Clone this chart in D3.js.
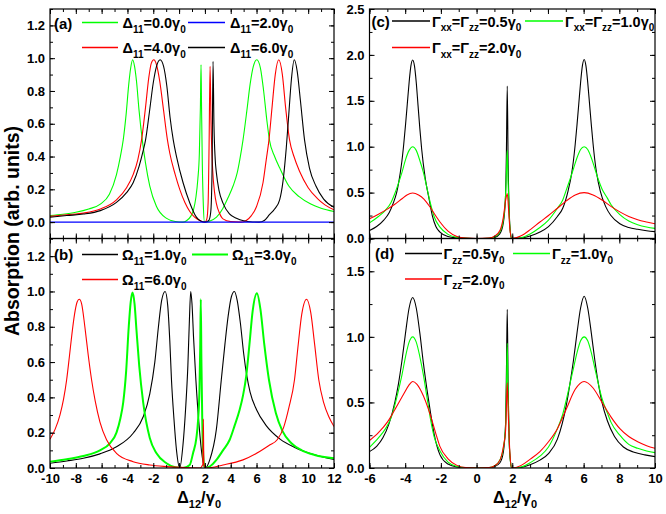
<!DOCTYPE html>
<html>
<head>
<meta charset="utf-8">
<script src="https://cdn.jsdelivr.net/npm/d3@7"></script>
<style>
  body { margin: 0; background: #fff; }
  svg { display: block; font-family: "Liberation Sans", Arial, sans-serif; font-weight: bold; }
</style>
</head>
<body>
<svg id="chart" width="666" height="514"></svg>
<script>
const FONT = '"Liberation Sans", Arial, sans-serif';

// tick values
const xTicksAB = [-10, -8, -6, -4, -2, 0, 2, 4, 6, 8, 10, 12];
const xTicksCD = [-6, -4, -2, 0, 2, 4, 6, 8, 10];
const yTicksA = [0, 0.2, 0.4, 0.6, 0.8, 1.0, 1.2];
const yTicksB = [0, 0.2, 0.4, 0.6, 0.8, 1.0, 1.2];
const yTicksC = [0, 0.5, 1.0, 1.5, 2.0, 2.5];
const yTicksD = [0, 0.5, 1.0, 1.5];

// legend labels
const labelsA = ["Δ_{11}=0.0γ_{0}", "Δ_{11}=2.0γ_{0}", "Δ_{11}=4.0γ_{0}", "Δ_{11}=6.0γ_{0}"];
const labelsB = ["Ω_{11}=1.0γ_{0}", "Ω_{11}=3.0γ_{0}", "Ω_{11}=6.0γ_{0}"];
const labelsC = ["Γ_{xx}=Γ_{zz}=0.5γ_{0}", "Γ_{xx}=Γ_{zz}=1.0γ_{0}", "Γ_{xx}=Γ_{zz}=2.0γ_{0}"];
const labelsD = ["Γ_{zz}=0.5γ_{0}", "Γ_{zz}=1.0γ_{0}", "Γ_{zz}=2.0γ_{0}"];

// (a) absorption vs Δ12: [x, y]
const aGreen = [[-10,0.04],[-9,0.048],[-8,0.06],[-7,0.08],[-6.1,0.11],[-5.4,0.17],[-4.85,0.29],[-4.55,0.4],[-4.33,0.5],[-4.1,0.66],[-3.9,0.84],[-3.75,0.94],[-3.6,0.99],[-3.45,0.95],[-3.3,0.86],[-3.1,0.68],[-2.85,0.5],[-2.6,0.36],[-2.27,0.22],[-1.75,0.095],[-1.0,0.024],[-0.3,0.004],[0.3,0],[0.6,0.01],[0.9,0.035],[1.1,0.07],[1.3,0.15],[1.45,0.26],[1.57,0.42],[1.65,0.7],[1.7,0.96],[1.74,0.7],[1.8,0.35],[1.88,0.1],[1.97,0],[2.3,0.004],[2.9,0.03],[3.4,0.085],[3.8,0.15],[4.18,0.22],[4.5,0.3],[4.7,0.38],[4.95,0.5],[5.25,0.68],[5.5,0.84],[5.75,0.95],[6.02,0.99],[6.3,0.94],[6.55,0.8],[6.8,0.62],[7.0,0.5],[7.4,0.4],[7.8,0.33],[8.5,0.22],[9.3,0.155],[10.2,0.11],[11,0.085],[12,0.065]];
const aBlue = [[-10,0],[12,0]];
const aRed = [[-10,0.035],[-8.7,0.045],[-7.4,0.055],[-6.1,0.08],[-4.85,0.136],[-4.07,0.21],[-3.56,0.29],[-3.2,0.38],[-2.91,0.5],[-2.6,0.7],[-2.35,0.88],[-2.15,0.97],[-1.96,0.99],[-1.75,0.96],[-1.5,0.86],[-1.2,0.68],[-0.9,0.5],[-0.72,0.42],[-0.3,0.29],[0.05,0.2],[0.45,0.12],[0.83,0.065],[1.2,0.03],[1.6,0.01],[2.0,0],[2.15,0.02],[2.25,0.12],[2.32,0.45],[2.4,0.95],[2.47,0.62],[2.6,0.32],[2.75,0.18],[2.9,0.11],[3.1,0.06],[3.4,0.02],[4.0,0.003],[4.8,0],[5.2,0.01],[5.6,0.04],[6.0,0.095],[6.5,0.24],[6.75,0.38],[6.96,0.5],[7.2,0.7],[7.45,0.9],[7.72,0.99],[8.0,0.9],[8.25,0.7],[8.56,0.5],[8.9,0.4],[9.33,0.31],[10,0.21],[10.7,0.145],[11.3,0.105],[12,0.075]];
const aBlack = [[-10,0.03],[-8.7,0.04],[-7.4,0.049],[-6.1,0.07],[-4.85,0.12],[-4.07,0.18],[-3.56,0.24],[-3.1,0.34],[-2.8,0.43],[-2.6,0.5],[-2.3,0.67],[-2.0,0.85],[-1.75,0.95],[-1.47,0.99],[-1.2,0.95],[-0.95,0.83],[-0.7,0.64],[-0.45,0.5],[-0.2,0.4],[0.31,0.24],[0.83,0.117],[1.34,0.03],[1.7,0.005],[2.0,0],[2.3,0.01],[2.45,0.06],[2.55,0.3],[2.63,0.98],[2.7,0.6],[2.8,0.38],[2.89,0.3],[3.1,0.19],[3.4,0.116],[3.9,0.05],[4.44,0.024],[5.0,0.008],[5.7,0.001],[6.2,0],[6.6,0.01],[7.0,0.045],[7.4,0.08],[7.79,0.136],[8.05,0.25],[8.3,0.45],[8.5,0.66],[8.7,0.87],[8.92,0.99],[9.15,0.92],[9.4,0.74],[9.72,0.5],[10.1,0.33],[10.6,0.22],[11.2,0.14],[12,0.09]];

// (b)
const bBlack = [[-10,0.027],[-8.7,0.04],[-7.42,0.055],[-6.13,0.08],[-4.85,0.12],[-3.56,0.197],[-2.78,0.29],[-2.27,0.42],[-1.88,0.6],[-1.6,0.8],[-1.35,0.95],[-1.08,1.0],[-0.88,0.92],[-0.72,0.72],[-0.59,0.5],[-0.4,0.28],[-0.2,0.1],[0.05,0],[0.3,0.13],[0.5,0.33],[0.68,0.58],[0.8,0.84],[0.9,1.0],[1.0,0.93],[1.12,0.74],[1.3,0.5],[1.55,0.24],[1.8,0.06],[2.03,0],[2.37,0.045],[2.89,0.22],[3.27,0.5],[3.55,0.7],[3.8,0.86],[4.05,0.97],[4.28,1.0],[4.5,0.95],[4.75,0.82],[5.0,0.65],[5.25,0.52],[5.5,0.43],[6.0,0.33],[6.75,0.24],[7.8,0.165],[9.0,0.115],[10.5,0.075],[12,0.048]];
const bGreen = [[-10,0.036],[-8.7,0.05],[-7.42,0.068],[-6.13,0.1],[-5.36,0.14],[-4.85,0.2],[-4.55,0.28],[-4.33,0.37],[-4.1,0.55],[-3.9,0.8],[-3.75,0.94],[-3.61,0.994],[-3.45,0.93],[-3.3,0.78],[-3.09,0.58],[-2.78,0.37],[-2.27,0.17],[-1.75,0.083],[-0.98,0.027],[-0.3,0.004],[0.3,0],[0.82,0.017],[1.08,0.084],[1.34,0.17],[1.47,0.27],[1.58,0.45],[1.64,0.7],[1.68,0.956],[1.73,0.6],[1.8,0.25],[1.88,0.06],[1.99,0],[2.4,0.01],[2.89,0.046],[3.4,0.1],[3.92,0.16],[4.3,0.24],[4.69,0.33],[4.95,0.41],[5.2,0.52],[5.45,0.7],[5.7,0.89],[6.03,0.99],[6.3,0.9],[6.6,0.7],[6.96,0.5],[7.5,0.31],[8.0,0.21],[8.7,0.14],[9.5,0.1],[10.5,0.074],[12,0.055]];
const bRed = [[-10,0.163],[-9.6,0.22],[-9.23,0.3],[-8.95,0.39],[-8.71,0.5],[-8.5,0.63],[-8.3,0.76],[-8.1,0.87],[-7.9,0.94],[-7.73,0.956],[-7.55,0.93],[-7.3,0.8],[-7.04,0.64],[-6.78,0.5],[-6.5,0.38],[-6.13,0.26],[-5.62,0.16],[-4.85,0.083],[-3.56,0.036],[-2.27,0.017],[-0.98,0.008],[0.5,0.002],[1.6,0],[1.84,0.02],[1.88,0.277],[1.92,0.02],[2.05,0],[3.4,0.017],[4.95,0.046],[6.24,0.093],[7.01,0.13],[7.6,0.16],[8.1,0.23],[8.5,0.34],[8.94,0.5],[9.2,0.68],[9.5,0.87],[9.87,0.956],[10.2,0.88],[10.5,0.7],[10.82,0.5],[11.2,0.37],[11.6,0.29],[12,0.235]];

// (c)
const cBlack = [[-6,0.087],[-5.6,0.13],[-5.2,0.2],[-4.9,0.28],[-4.68,0.38],[-4.48,0.5],[-4.28,0.71],[-4.18,0.85],[-4.08,1.03],[-3.98,1.24],[-3.88,1.47],[-3.78,1.7],[-3.68,1.88],[-3.58,1.945],[-3.48,1.88],[-3.38,1.7],[-3.28,1.45],[-3.18,1.2],[-3.08,0.98],[-2.88,0.66],[-2.68,0.45],[-2.48,0.25],[-2.28,0.13],[-2.05,0.07],[-1.6,0.022],[-1.1,0.006],[-0.6,0.001],[0,0],[0.7,0.002],[1.0,0.01],[1.3,0.05],[1.5,0.17],[1.62,0.45],[1.67,0.9],[1.72,1.66],[1.77,0.8],[1.83,0.3],[1.9,0.06],[1.97,0],[2.5,0.004],[3.0,0.028],[3.55,0.07],[4.03,0.13],[4.53,0.24],[4.83,0.33],[5.13,0.52],[5.33,0.71],[5.43,0.85],[5.53,1.03],[5.63,1.24],[5.73,1.47],[5.83,1.7],[5.93,1.88],[6.03,1.95],[6.13,1.88],[6.23,1.7],[6.33,1.47],[6.43,1.24],[6.53,1.03],[6.63,0.85],[6.73,0.71],[6.93,0.52],[7.23,0.35],[7.53,0.25],[8.03,0.16],[8.53,0.12],[9.03,0.1],[9.53,0.085],[10,0.075]];
const cGreen = [[-6,0.17],[-5.5,0.24],[-5.1,0.31],[-4.8,0.39],[-4.58,0.49],[-4.38,0.6],[-4.18,0.72],[-3.98,0.86],[-3.78,0.96],[-3.58,1.0],[-3.38,0.96],[-3.18,0.85],[-2.98,0.72],[-2.78,0.55],[-2.58,0.38],[-2.38,0.24],[-2.05,0.124],[-1.6,0.045],[-1.1,0.012],[-0.5,0.002],[0,0],[0.7,0.003],[1.0,0.015],[1.3,0.07],[1.5,0.2],[1.62,0.45],[1.68,0.75],[1.72,0.96],[1.77,0.6],[1.83,0.25],[1.9,0.06],[1.97,0],[2.5,0.008],[3.0,0.05],[3.55,0.12],[4.03,0.2],[4.53,0.33],[4.83,0.42],[5.03,0.53],[5.23,0.64],[5.43,0.76],[5.63,0.88],[5.83,0.97],[6.03,1.0],[6.23,0.97],[6.43,0.88],[6.63,0.76],[6.83,0.64],[7.03,0.54],[7.33,0.44],[7.53,0.37],[8.03,0.26],[8.53,0.19],[9.03,0.15],[9.53,0.125],[10,0.11]];
const cRed = [[-6,0.215],[-5.5,0.265],[-5.0,0.32],[-4.6,0.37],[-4.2,0.43],[-3.9,0.475],[-3.58,0.495],[-3.25,0.475],[-2.95,0.43],[-2.6,0.34],[-2.3,0.25],[-2.05,0.18],[-1.6,0.08],[-1.1,0.022],[-0.6,0.004],[0,0],[0.7,0.005],[1.0,0.025],[1.31,0.087],[1.5,0.23],[1.63,0.415],[1.72,0.49],[1.8,0.3],[1.87,0.1],[1.97,0],[2.5,0.03],[3.03,0.1],[3.55,0.18],[4.03,0.25],[4.53,0.33],[5.03,0.41],[5.53,0.475],[6.03,0.5],[6.53,0.475],[7.03,0.42],[7.53,0.35],[8.03,0.29],[8.53,0.24],[9.03,0.205],[9.53,0.18],[10,0.16]];

// (d)
const dBlack = [[-6,0.125],[-5.6,0.165],[-5.25,0.23],[-4.9,0.34],[-4.58,0.5],[-4.38,0.64],[-4.18,0.82],[-3.98,1.03],[-3.78,1.22],[-3.58,1.3],[-3.38,1.22],[-3.18,1.03],[-2.98,0.8],[-2.78,0.6],[-2.58,0.42],[-2.38,0.26],[-2.05,0.1],[-1.6,0.03],[-1.1,0.008],[-0.6,0.001],[0,0],[0.7,0.002],[1.0,0.01],[1.31,0.04],[1.5,0.12],[1.63,0.35],[1.68,0.8],[1.72,1.21],[1.77,0.6],[1.83,0.2],[1.9,0.05],[1.97,0],[2.5,0.005],[3.0,0.025],[3.55,0.06],[4.03,0.11],[4.53,0.22],[5.03,0.48],[5.23,0.64],[5.43,0.82],[5.63,1.03],[5.83,1.22],[6.03,1.31],[6.23,1.22],[6.43,1.03],[6.63,0.82],[6.83,0.64],[7.03,0.5],[7.33,0.36],[7.73,0.24],[8.23,0.16],[8.83,0.12],[9.43,0.1],[10,0.087]];
const dGreen = [[-6,0.158],[-5.5,0.23],[-5.1,0.3],[-4.8,0.38],[-4.58,0.48],[-4.38,0.59],[-4.18,0.71],[-3.98,0.85],[-3.78,0.96],[-3.58,1.0],[-3.38,0.96],[-3.18,0.85],[-2.98,0.71],[-2.78,0.54],[-2.58,0.37],[-2.38,0.24],[-2.05,0.13],[-1.6,0.045],[-1.1,0.012],[-0.5,0.002],[0,0],[0.7,0.003],[1.0,0.015],[1.3,0.06],[1.5,0.15],[1.63,0.33],[1.68,0.65],[1.72,0.95],[1.77,0.55],[1.83,0.2],[1.9,0.05],[1.97,0],[2.5,0.007],[3.0,0.04],[3.55,0.09],[4.03,0.16],[4.53,0.3],[4.83,0.41],[5.03,0.52],[5.23,0.64],[5.43,0.76],[5.63,0.88],[5.83,0.97],[6.03,1.0],[6.23,0.97],[6.43,0.88],[6.63,0.76],[6.83,0.64],[7.03,0.53],[7.33,0.42],[7.53,0.35],[8.03,0.25],[8.53,0.18],[9.03,0.15],[9.53,0.13],[10,0.117]];
const dRed = [[-6,0.21],[-5.5,0.27],[-5.0,0.35],[-4.6,0.44],[-4.1,0.56],[-3.8,0.63],[-3.58,0.66],[-3.35,0.64],[-3.08,0.58],[-2.58,0.4],[-2.3,0.27],[-2.05,0.163],[-1.6,0.07],[-1.1,0.02],[-0.6,0.003],[0,0],[0.7,0.003],[1.0,0.015],[1.31,0.06],[1.5,0.16],[1.63,0.29],[1.68,0.5],[1.72,0.65],[1.78,0.4],[1.87,0.11],[1.97,0],[2.5,0.02],[3.03,0.07],[3.55,0.125],[4.03,0.2],[4.53,0.3],[5.03,0.45],[5.53,0.6],[6.03,0.66],[6.53,0.61],[7.03,0.5],[7.53,0.39],[8.03,0.3],[8.53,0.24],[9.03,0.2],[9.53,0.17],[10,0.15]];

const GREEN = "#00ff00", RED = "#ff0000", BLUE = "#0000ff", BLACK = "#000000";

const panels = [
  {
    id: "a", x0: 50, x1: 334, y0: 9, y1: 238.5,
    xDomain: [-10, 12], yDomain: [-0.1, 1.3],
    xTicks: xTicksAB, xMinor: d3.range(-10, 12.01, 1), xLabels: false,
    yTicks: yTicksA, yMinor: d3.range(-0.1, 1.31, 0.1),
    series: [
      { data: aGreen, color: GREEN, width: 1.1 },
      { data: aRed, color: RED, width: 1.1 },
      { data: aBlack, color: BLACK, width: 1.1 },
      { data: aBlue, color: BLUE, width: 1.1 }
    ],
    tag: { text: "(a)", x: 54, y: 28.5 },
    legend: [
      { label: labelsA[0], color: GREEN, width: 1.5, line: [82, 118], tx: 122.5, y: 28 },
      { label: labelsA[1], color: BLUE, width: 1.5, line: [188, 225], tx: 230, y: 28 },
      { label: labelsA[2], color: RED, width: 1.5, line: [82, 118], tx: 122.5, y: 53 },
      { label: labelsA[3], color: BLACK, width: 1.5, line: [188, 225], tx: 230, y: 53 }
    ]
  },
  {
    id: "b", x0: 50, x1: 334, y0: 238.5, y1: 468,
    xDomain: [-10, 12], yDomain: [0, 1.3],
    xTicks: xTicksAB, xMinor: d3.range(-10, 12.01, 1), xLabels: true,
    yTicks: yTicksB, yMinor: d3.range(0, 1.31, 0.1),
    series: [
      { data: bBlack, color: BLACK, width: 1.1 },
      { data: bGreen, color: GREEN, width: 2 },
      { data: bRed, color: RED, width: 1.1 }
    ],
    tag: { text: "(b)", x: 54, y: 259.5 },
    legend: [
      { label: labelsB[0], color: BLACK, width: 1.5, line: [82, 118], tx: 122, y: 260 },
      { label: labelsB[1], color: GREEN, width: 2.2, line: [192, 228], tx: 232, y: 260 },
      { label: labelsB[2], color: RED, width: 1.5, line: [82, 118], tx: 122, y: 285 }
    ]
  },
  {
    id: "c", x0: 369.5, x1: 655, y0: 9, y1: 238.5,
    xDomain: [-6, 10], yDomain: [0, 2.5],
    xTicks: xTicksCD, xMinor: d3.range(-6, 10.01, 1), xLabels: false,
    yTicks: yTicksC, yMinor: d3.range(0, 2.51, 0.25),
    series: [
      { data: cBlack, color: BLACK, width: 1.1 },
      { data: cGreen, color: GREEN, width: 1.1 },
      { data: cRed, color: RED, width: 1.1 }
    ],
    tag: { text: "(c)", x: 371.5, y: 26.5 },
    legend: [
      { label: labelsC[0], color: BLACK, width: 1.5, line: [392, 430], tx: 432, y: 26.5 },
      { label: labelsC[1], color: GREEN, width: 1.5, line: [525, 563], tx: 565, y: 26.5 },
      { label: labelsC[2], color: RED, width: 1.5, line: [392, 430], tx: 432, y: 53 }
    ]
  },
  {
    id: "d", x0: 369.5, x1: 655, y0: 238.5, y1: 468,
    xDomain: [-6, 10], yDomain: [0, 1.75],
    xTicks: xTicksCD, xMinor: d3.range(-6, 10.01, 1), xLabels: true,
    yTicks: yTicksD, yMinor: d3.range(0, 1.76, 0.25),
    series: [
      { data: dBlack, color: BLACK, width: 1.1 },
      { data: dGreen, color: GREEN, width: 1.1 },
      { data: dRed, color: RED, width: 1.1 }
    ],
    tag: { text: "(d)", x: 375, y: 258.5 },
    legend: [
      { label: labelsD[0], color: BLACK, width: 1.5, line: [405, 442], tx: 443.5, y: 259 },
      { label: labelsD[1], color: GREEN, width: 1.5, line: [513, 550], tx: 552, y: 259 },
      { label: labelsD[2], color: RED, width: 1.5, line: [405, 442], tx: 443.5, y: 284.5 }
    ]
  }
];

const svg = d3.select("#chart");

// "Δ_{11}=0.0γ_{0}" -> text with subscript tspans
function richText(parent, str, x, y, size, subSize, shift) {
  const t = parent.append("text")
    .attr("x", x).attr("y", y)
    .attr("font-size", size)
    .attr("font-weight", "bold")
    .attr("fill", "#000");
  let offset = 0;
  str.split(/(_\{[^}]*\})/).filter(s => s.length).forEach(part => {
    const isSub = part.startsWith("_{");
    const target = isSub ? shift : 0;
    t.append("tspan")
      .attr("dy", target - offset)
      .attr("font-size", isSub ? subSize : size)
      .text(isSub ? part.slice(2, -1) : part);
    offset = target;
  });
  return t;
}

function styleAxis(g) {
  g.select(".domain").remove();
  g.attr("font-size", 13).attr("font-family", FONT).attr("font-weight", "bold");
  g.selectAll(".tick line").attr("stroke", "#000").attr("stroke-width", 1);
  g.selectAll(".tick text").attr("fill", "#000");
}

function drawPanel(p) {
  const x = d3.scaleLinear().domain(p.xDomain).range([p.x0, p.x1]);
  const y = d3.scaleLinear().domain(p.yDomain).range([p.y1, p.y0]);
  const g = svg.append("g").attr("class", "panel-" + p.id);

  svg.append("clipPath").attr("id", "clip-" + p.id)
    .append("rect")
    .attr("x", p.x0).attr("y", p.y0)
    .attr("width", p.x1 - p.x0).attr("height", p.y1 - p.y0);

  const line = d3.line()
    .x(d => x(d[0]))
    .y(d => y(d[1]))
    .curve(d3.curveMonotoneX);

  g.append("g")
    .attr("clip-path", `url(#clip-${p.id})`)
    .selectAll("path")
    .data(p.series)
    .join("path")
    .attr("d", s => line(s.data))
    .attr("fill", "none")
    .attr("stroke", s => s.color)
    .attr("stroke-width", s => s.width)
    .attr("stroke-linejoin", "round");

  // minor ticks, all four sides
  const minor = [
    [d3.axisLeft(y).tickValues(p.yMinor), `translate(${p.x0},0)`],
    [d3.axisRight(y).tickValues(p.yMinor), `translate(${p.x1},0)`],
    [d3.axisBottom(x).tickValues(p.xMinor), `translate(0,${p.y1})`],
    [d3.axisTop(x).tickValues(p.xMinor), `translate(0,${p.y0})`]
  ];
  minor.forEach(([ax, tr]) => {
    g.append("g").attr("transform", tr)
      .call(ax.tickSize(-3).tickFormat(""))
      .call(styleAxis);
  });

  // major ticks
  g.append("g").attr("transform", `translate(${p.x0},0)`)
    .call(d3.axisLeft(y).tickValues(p.yTicks).tickSize(-5).tickPadding(5).tickFormat(d3.format(".1f")))
    .call(styleAxis);
  g.append("g").attr("transform", `translate(${p.x1},0)`)
    .call(d3.axisRight(y).tickValues(p.yTicks).tickSize(-5).tickFormat(""))
    .call(styleAxis);
  g.append("g").attr("transform", `translate(0,${p.y1})`)
    .call(d3.axisBottom(x).tickValues(p.xTicks).tickSize(-5).tickPadding(5.5)
      .tickFormat(p.xLabels ? (d => String(d)) : ""))
    .call(styleAxis);
  g.append("g").attr("transform", `translate(0,${p.y0})`)
    .call(d3.axisTop(x).tickValues(p.xTicks).tickSize(-5).tickFormat(""))
    .call(styleAxis);

  // frame
  g.append("rect")
    .attr("x", p.x0).attr("y", p.y0)
    .attr("width", p.x1 - p.x0).attr("height", p.y1 - p.y0)
    .attr("fill", "none").attr("stroke", "#000").attr("stroke-width", 1.2);

  // panel tag and legend
  g.append("text")
    .attr("x", p.tag.x).attr("y", p.tag.y)
    .attr("font-size", 15).attr("font-weight", "bold")
    .text(p.tag.text);

  p.legend.forEach(e => {
    g.append("line")
      .attr("x1", e.line[0]).attr("x2", e.line[1])
      .attr("y1", e.y - 5.5).attr("y2", e.y - 5.5)
      .attr("stroke", e.color).attr("stroke-width", e.width);
    richText(g, e.label, e.tx, e.y, 14.5, 10, 4.5);
  });
}

panels.forEach(drawPanel);

// axis titles
svg.append("text")
  .attr("transform", "translate(19,231) rotate(-90)")
  .attr("text-anchor", "middle")
  .attr("font-size", 19.5)
  .attr("font-weight", "bold")
  .text("Absorption (arb. units)");

richText(svg, "Δ_{12}/γ_{0}", 177, 502.5, 16.5, 11, 5);
richText(svg, "Δ_{12}/γ_{0}", 493, 502.5, 16.5, 11, 5);
</script>
</body>
</html>
